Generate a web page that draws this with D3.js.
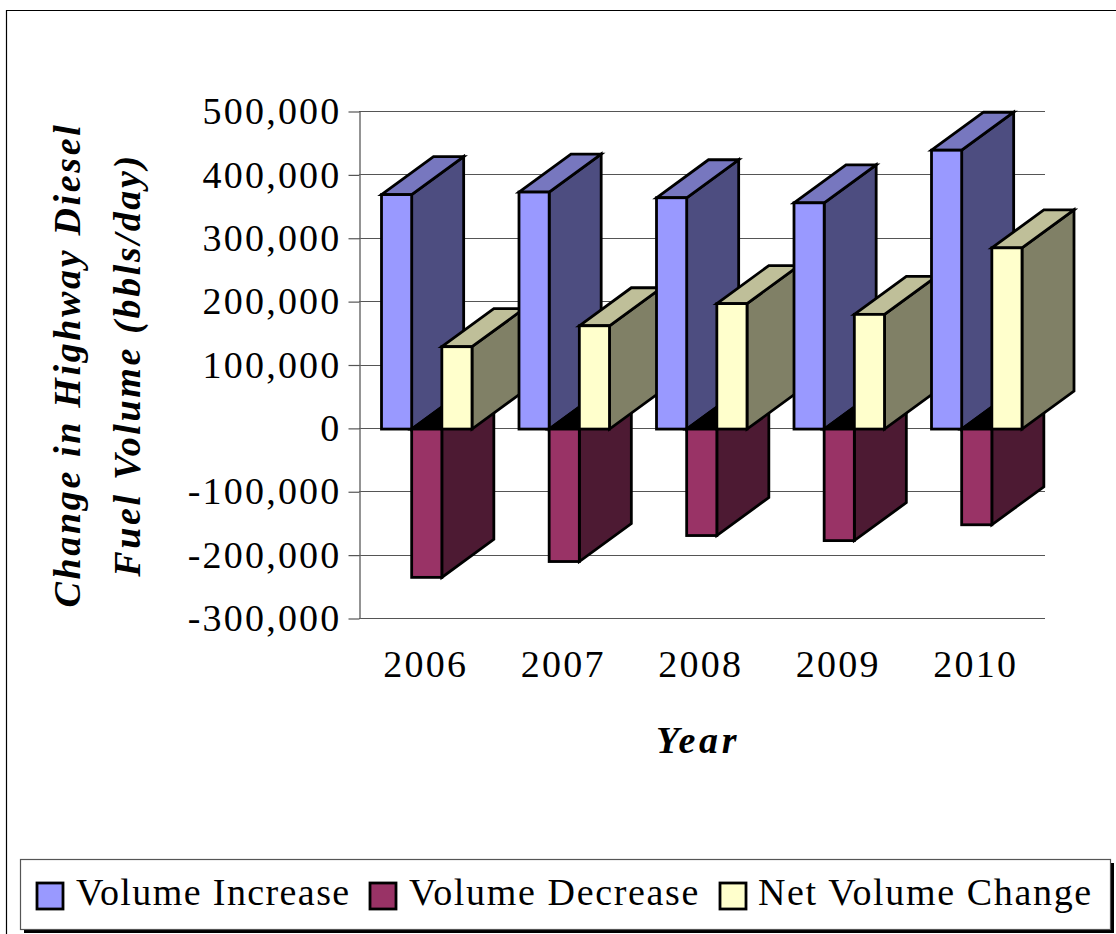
<!DOCTYPE html>
<html><head><meta charset="utf-8">
<script src="https://cdn.jsdelivr.net/npm/d3@7"></script>
<style>
html,body{margin:0;padding:0;background:#fff}
svg{display:block}
text{font-family:"Liberation Serif",serif;fill:#000}
</style></head><body><svg id="c" width="1116" height="934"></svg>
<script>
const years = ["2006","2007","2008","2009","2010"];
const seriesNames = ["Volume Increase","Volume Decrease","Net Volume Change"];
const volumeIncrease = [370000,374000,365000,357000,440000];
const volumeDecrease = [-234000,-209000,-168000,-176000,-151000];
const netVolumeChange = [130000,163000,198000,181000,286000];
const yTicks = [500000,400000,300000,200000,100000,0,-100000,-200000,-300000];
const frontColors = ["#9999FF","#993366","#FFFFCC"];
const sideColors = ["#4D4D80","#4D1A33","#808066"];
const topColors = ["#7777BF","#000000","#BFBF99"];

const seriesValues = [volumeIncrease,volumeDecrease,netVolumeChange];
const svg = d3.select("#c");
const L=359,R=1046.5,GR=1045,T=111.5,B=618.5,DX=52,DY=-38;
const x = d3.scaleBand().domain(years).range([L,R]);
const xs = d3.scaleBand().domain(seriesNames).range([22.5,113]);
const y = d3.scaleLinear().domain([-300000,500000]).range([B,T]);
const fmt = v => d3.format(",")(v).replace("\u2212","-");

// frame
svg.append("path").attr("d",`M6.5,934V10.5H1116`).attr("fill","none").attr("stroke","#000").attr("stroke-width",1.2);

// gridlines
const grid = svg.append("g");
grid.selectAll("line").data(yTicks).join("line")
  .attr("x1",L).attr("x2",GR).attr("y1",d=>Math.floor(y(d))+.5).attr("y2",d=>Math.floor(y(d))+.5)
  .attr("stroke","#555").attr("stroke-width",1.2);

// y axis
const ya = svg.append("g").attr("transform",`translate(${L}.5,0)`)
  .call(d3.axisLeft(y).tickValues(yTicks).tickFormat(fmt).tickSize(11).tickPadding(7).tickSizeOuter(0));
ya.select(".domain").attr("stroke","#666").attr("stroke-width",1.4);
ya.selectAll(".tick line").attr("stroke","#555").attr("stroke-width",1.2);
ya.selectAll("text").attr("font-size",38).attr("letter-spacing",2.2)
  .attr("font-family","Liberation Serif").attr("fill","#000").attr("dy","0.32em");

// x labels
const xa = svg.append("g").attr("transform",`translate(0,${B})`)
  .call(d3.axisBottom(x).tickSize(0).tickPadding(32));
xa.select(".domain").remove();
xa.selectAll("text").attr("font-size",38).attr("letter-spacing",2.2)
  .attr("font-family","Liberation Serif").attr("fill","#000").attr("dx",-2);

// bars
const bars = svg.append("g").attr("transform","translate(0,0.7)");
const pts = a => a.map(p=>p.join(",")).join(" ");
years.forEach((yr,i)=>{
  seriesNames.forEach((s,j)=>{
    const v = seriesValues[j][i];
    const x0 = x(yr)+xs(s), x1 = x0+xs.bandwidth();
    const yv = y(v), y0 = y(0);
    const yt = Math.min(yv,y0), yb = Math.max(yv,y0);
    const g = bars.append("g").attr("stroke","#000").attr("stroke-width",2.8).attr("stroke-linejoin","miter");
    g.append("polygon").attr("fill",sideColors[j])
      .attr("points",pts([[x1,yt],[x1+DX,yt+DY],[x1+DX,yb+DY],[x1,yb]]));
    g.append("polygon").attr("fill",topColors[j])
      .attr("points",pts([[x0,yt],[x0+DX,yt+DY],[x1+DX,yt+DY],[x1,yt]]));
    g.append("rect").attr("x",x0).attr("y",yt).attr("width",x1-x0).attr("height",yb-yt)
      .attr("fill",frontColors[j]);
  });
});

// axis titles
const t = svg.append("g").attr("font-weight","bold").attr("font-style","italic");
t.selectAll("text.yt").data(["Change in Highway Diesel","Fuel Volume (bbls/day)"]).join("text")
  .attr("class","yt").attr("text-anchor","middle").attr("font-size",38).attr("letter-spacing",2.65)
  .attr("transform",(d,i)=>`translate(${80+i*60},365) rotate(-90)`).text(d=>d);
t.append("text").attr("x",698).attr("y",753).attr("text-anchor","middle")
  .attr("font-size",38).attr("letter-spacing",3.6).text("Year");

// legend
svg.append("rect").attr("x",24).attr("y",863).attr("width",1090).attr("height",70).attr("fill","#000");
svg.append("rect").attr("x",20.5).attr("y",859.5).attr("width",1090).attr("height",70)
  .attr("fill","#fff").attr("stroke","#555").attr("stroke-width",1.2);
const lx=[37,370,720], tx=[76,409,758], ls=[1.4,1.65,1.65];
seriesNames.forEach((s,j)=>{
  svg.append("rect").attr("x",lx[j]).attr("y",883).attr("width",26).attr("height",26)
    .attr("fill",frontColors[j]).attr("stroke","#000").attr("stroke-width",2.8);
  svg.append("text").attr("x",tx[j]).attr("y",905).attr("font-size",38).attr("letter-spacing",ls[j]).text(s);
});
</script></body></html>
